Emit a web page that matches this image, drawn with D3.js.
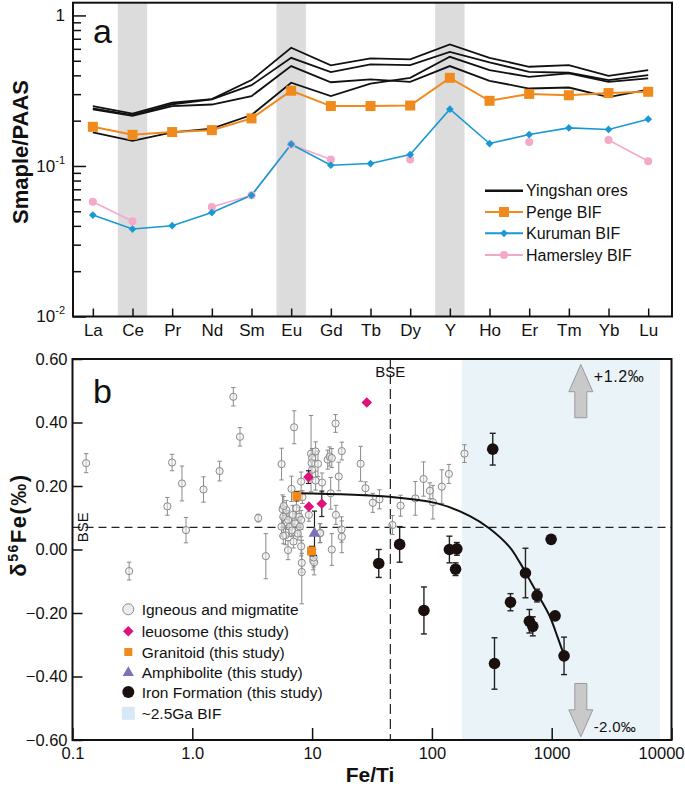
<!DOCTYPE html>
<html><head><meta charset="utf-8">
<script src="https://cdn.jsdelivr.net/npm/d3@7"></script>
<style>body{margin:0;background:#fff;} svg{display:block;font-family:"Liberation Sans",Arial,sans-serif;}</style>
</head><body>
<svg id="c" width="685" height="789"></svg>
<script>
// ---------- Panel a data ----------
const ree = ["La","Ce","Pr","Nd","Sm","Eu","Gd","Tb","Dy","Y","Ho","Er","Tm","Yb","Lu"];
const shadedREE = ["Ce","Eu","Y"];
const yingshan1 = [0.250,0.223,0.263,0.278,0.372,0.610,0.466,0.518,0.510,0.642,0.523,0.456,0.468,0.397,0.433];
const yingshan2 = [0.241,0.218,0.257,0.277,0.344,0.523,0.420,0.473,0.468,0.573,0.488,0.422,0.416,0.372,0.401];
const yingshan3 = [0.238,0.215,0.250,0.256,0.291,0.461,0.360,0.376,0.362,0.461,0.368,0.327,0.332,0.287,0.322];
const yingshan4 = [0.167,0.147,0.167,0.177,0.218,0.357,0.291,0.352,0.385,0.531,0.433,0.391,0.412,0.362,0.382];
const penge     = [0.182,0.161,0.168,0.173,0.207,0.316,0.250,0.250,0.252,0.385,0.271,0.301,0.295,0.305,0.311];
const kuruman   = [0.0472,0.0381,0.0401,0.0490,0.0638,0.1395,0.1011,0.1038,0.1191,0.2384,0.1410,0.1618,0.1790,0.1747,0.2045];
const hamersley = [0.0579,0.0429,null,0.0534,0.0640,0.139,0.1103,null,0.1105,null,null,0.1444,null,0.1489,0.1075];
const legendA = ["Yingshan ores","Penge BIF","Kuruman BIF","Hamersley BIF"];

// ---------- Panel b data ----------  [Fe/Ti, d56Fe, error]
const igneous = [
 [0.13,0.272,0.03],[0.297,-0.068,0.028],[0.619,0.136,0.028],[0.678,0.274,0.026],[0.82,0.208,0.055],
 [0.886,0.061,0.04],[1.24,0.189,0.04],[1.69,0.247,0.031],[2.2,0.481,0.029],[2.5,0.355,0.029],
 [3.55,0.099,0.012],[4.11,-0.021,0.071],[5.56,0.269,0.05],[7.08,0.385,0.052],
 [6.73,0.191,0.04],[5.67,0.127,0.045],[5.75,0.103,0.03],[5.56,0.072,0.03],[6.0,0.045,0.03],
 [6.1,0.124,0.03],[6.3,0.093,0.03],[6.5,0.072,0.03],[6.9,0.109,0.03],[7.2,0.082,0.03],
 [7.4,0.13,0.03],[7.8,0.103,0.03],[8.1,0.093,0.03],[7.9,0.072,0.03],[6.3,-0.002,0.03],
 [5.75,0.043,0.025],[8.1,0.01,0.03],[8.2,-0.042,0.03],[8.2,-0.071,0.1],[8.1,0.214,0.03],
 [8.3,0.165,0.02],[5.8,0.137,0.03],[6.8,0.06,0.02],[7.6,0.05,0.02],[7.0,0.025,0.02],
 [9.8,0.302,0.12],[10.0,0.288,0.03],[10.7,0.309,0.03],[9.9,0.272,0.03],[11.2,0.27,0.04],
 [10.0,0.251,0.03],[12.1,0.211,0.03],[10.7,0.217,0.03],[9.4,0.109,0.02],[11.6,0.051,0.03],
 [10.2,-0.034,0.03],[10.4,-0.04,0.04],[10.3,-0.025,0.03],[11.7,0.052,0.03],
 [13.5,0.283,0.03],[14.0,0.293,0.03],[14.6,0.288,0.03],[15.7,0.397,0.028],[17.7,0.31,0.028],
 [16.7,0.23,0.045],[14.3,0.177,0.05],[15.8,0.109,0.03],[17.6,0.063,0.04],[17.7,0.04,0.05],
 [14.6,0.0,0.05],[25.4,0.27,0.055],[27.9,0.193,0.02],[32.1,0.147,0.03],[36.5,0.158,0.03],
 [46.8,0.077,0.03],[54.8,0.138,0.033],[72.7,0.161,0.053],[85.2,0.222,0.054],[96.2,0.185,0.025],
 [101.9,0.149,0.053],[121,0.198,0.053],[138.6,0.238,0.03],[187,0.302,0.028]
];
const leuosome = [[28.6,0.463,0],[9.33,0.228,0.02],[9.4,0.135,0],[12.05,0.144,0.04]];
const granitoid = [[7.46,0.168,0.015],[9.89,-0.005,0.015]];
const amphibolite = [[10.47,0.051,0.07]];
const ironFormation = [
 [322,0.316,0.05],[989,0.032,0.012],[53.8,0.016,0.056],[36,-0.044,0.044],[140,0.0,0.042],
 [161.5,0.002,0.02],[157.6,-0.062,0.02],[85.8,-0.192,0.074],[604,-0.074,0.078],[755,-0.145,0.02],
 [453,-0.166,0.027],[651,-0.226,0.037],[695,-0.242,0.03],[1067,-0.209,0.01],[333,-0.359,0.081],
 [1268,-0.335,0.059]
];
const mixingCurve = [[7.41,0.177],[44.4,0.166],[108.8,0.146],[206,0.106],[302.6,0.066],[444,0.008],
 [538,-0.039],[612,-0.076],[764,-0.141],[957,-0.208],[1122,-0.277],[1268,-0.334]];
const bseFeTi = 45, bseD = 0.07;
const bifRange = [178, 8000];
const xTickValsB = [0.1,1,10,100,1000,10000];
const xTickLabelsB = ["0.1","1.0","10","100","1000","10000"];
const yTickValsB = [-0.6,-0.4,-0.2,0,0.2,0.4,0.6];
const legendB = ["Igneous and migmatite","leuosome (this study)","Granitoid (this study)","Amphibolite (this study)","Iron Formation (this study)","~2.5Ga BIF"];
const arrowFeTi = 1750;

const FONT = "Liberation Sans, Arial, sans-serif";
const svg = d3.select("#c");
const diamondA = d3.symbol(d3.symbolSquare, 30);
const diamondB = d3.symbol(d3.symbolSquare, 56);

// ================= PANEL A =================
const ax = d3.scaleLinear().domain([-0.5, 14.6]).range([73, 672]);
const ay = d3.scaleLog().domain([0.01, 1.215]).range([316.5, 2.7]);
const step = ax(1) - ax(0);
const gA = svg.append("g");

gA.selectAll("rect.band").data(shadedREE).join("rect")
  .attr("x", d => ax(ree.indexOf(d)) - 0.37*step).attr("width", 0.74*step)
  .attr("y", ay(1.215)).attr("height", ay(0.01) - ay(1.215)).attr("fill", "#dcdcdc");

const lineA = d3.line().defined(d => d != null).x((d,i) => ax(i)).y(d => ay(d));
[yingshan1, yingshan2, yingshan3, yingshan4].forEach(s => {
  gA.append("path").attr("d", lineA(s)).attr("fill","none").attr("stroke","#111").attr("stroke-width",1.8);
});
gA.append("path").attr("d", lineA(hamersley)).attr("fill","none").attr("stroke","#f4a9c9").attr("stroke-width",1.6);
gA.append("path").attr("d", lineA(kuruman)).attr("fill","none").attr("stroke","#1899d4").attr("stroke-width",1.6);
gA.append("path").attr("d", lineA(penge)).attr("fill","none").attr("stroke","#f08a1c").attr("stroke-width",2);

gA.selectAll("circle.ham").data(hamersley.map((v,i)=>[i,v]).filter(d=>d[1]!=null)).join("circle")
  .attr("cx", d => ax(d[0])).attr("cy", d => ay(d[1])).attr("r", 4).attr("fill","#f4a9c9");
gA.selectAll("path.kur").data(kuruman.map((v,i)=>[i,v])).join("path")
  .attr("d", diamondA).attr("transform", d => `translate(${ax(d[0])},${ay(d[1])}) rotate(45)`).attr("fill","#1899d4");
gA.selectAll("rect.pen").data(penge.map((v,i)=>[i,v])).join("rect")
  .attr("x", d => ax(d[0]) - 5).attr("y", d => ay(d[1]) - 5).attr("width",10).attr("height",10).attr("fill","#f08a1c");

// axes
const gAy = gA.append("g").attr("transform","translate(73,0)");
const minorVals = [];
[0.01,0.1].forEach(b => { for (let k=2;k<=9;k++) minorVals.push(b*k); });
gAy.append("g").call(d3.axisLeft(ay).tickValues(minorVals).tickSize(-8).tickSizeOuter(0).tickFormat(""));
const gMaj = gAy.append("g").call(d3.axisLeft(ay).tickValues([0.01,0.1,1]).tickSize(-13).tickSizeOuter(0).tickPadding(8).tickFormat(""));
gMaj.selectAll(".tick text").each(function(d){
  const t = d3.select(this).attr("font-size",17).attr("font-family",FONT).attr("fill","#111");
  if (d === 1) t.text("1");
  else { t.text("10"); t.append("tspan").attr("dy",-8).attr("font-size",11).text(d < 0.05 ? "-2" : "-1"); }
});
gAy.selectAll("line").attr("stroke","#111").attr("stroke-width",1.5);
gAy.selectAll(".domain").remove();

const gAx = gA.append("g").attr("transform","translate(0,316.5)")
  .call(d3.axisBottom(ax).tickValues(d3.range(ree.length)).tickFormat(i => ree[i]).tickSize(-8).tickSizeOuter(0).tickPadding(7));
gAx.selectAll(".domain").remove();
gAx.selectAll("line").attr("stroke","#111").attr("stroke-width",1.5);
gAx.selectAll("text").attr("font-size",17).attr("font-family",FONT).attr("fill","#111");

gA.append("rect").attr("x",73).attr("y",2.7).attr("width",599).attr("height",313.8)
  .attr("fill","none").attr("stroke","#111").attr("stroke-width",2);

gA.append("text").attr("x",93).attr("y",43).attr("font-size",34).attr("font-family",FONT).attr("fill","#111").text("a");
gA.append("text").attr("transform","translate(28,152) rotate(-90)").attr("text-anchor","middle")
  .attr("font-size",22).attr("font-weight","bold").attr("font-family",FONT).attr("fill","#111").text("Smaple/PAAS");

// legend a
const legAy = [190.7, 212, 233.3, 255];
const legAcol = ["#111","#f08a1c","#1899d4","#f4a9c9"];
legendA.forEach((name,i) => {
  const y = legAy[i];
  gA.append("line").attr("x1",485).attr("x2",523).attr("y1",y).attr("y2",y).attr("stroke",legAcol[i]).attr("stroke-width", i===0?2.6:2);
  if (i===1) gA.append("rect").attr("x",499).attr("y",y-5).attr("width",10).attr("height",10).attr("fill",legAcol[i]);
  if (i===2) gA.append("path").attr("d", diamondA).attr("transform",`translate(504,${y}) rotate(45)`).attr("fill",legAcol[i]);
  if (i===3) gA.append("circle").attr("cx",504).attr("cy",y).attr("r",4).attr("fill",legAcol[i]);
  gA.append("text").attr("x",526).attr("y",y).attr("dy","0.36em").attr("font-size",16).attr("font-family",FONT).attr("fill","#111").text(name);
});

// ================= PANEL B =================
const bx = d3.scaleLog().domain([0.1, 10000]).range([72.5, 671.5]);
const by = d3.scaleLinear().domain([-0.6, 0.6]).range([740, 359]);
const gB = svg.append("g");

gB.append("rect").attr("x", bx(bifRange[0])).attr("width", bx(bifRange[1]) - bx(bifRange[0]))
  .attr("y", by(0.6)).attr("height", by(-0.6) - by(0.6)).attr("fill", "#eaf3f8");

gB.append("line").attr("x1", bx(0.1)).attr("x2", bx(10000)).attr("y1", by(bseD)).attr("y2", by(bseD))
  .attr("stroke","#222").attr("stroke-width",1.2).attr("stroke-dasharray","8,5");
gB.append("line").attr("x1", bx(bseFeTi)).attr("x2", bx(bseFeTi)).attr("y1", by(0.6)).attr("y2", by(-0.6))
  .attr("stroke","#222").attr("stroke-width",1.2).attr("stroke-dasharray","10,5");

function errBars(g, data, color, w, cap) {
  const sel = g.append("g").attr("stroke", color).attr("stroke-width", w);
  data.filter(d => d[2] > 0).forEach(d => {
    const x = bx(d[0]), y1 = by(d[1]-d[2]), y2 = by(d[1]+d[2]);
    sel.append("line").attr("x1",x).attr("x2",x).attr("y1",y1).attr("y2",y2);
    sel.append("line").attr("x1",x-cap).attr("x2",x+cap).attr("y1",y1).attr("y2",y1);
    sel.append("line").attr("x1",x-cap).attr("x2",x+cap).attr("y1",y2).attr("y2",y2);
  });
}

errBars(gB, igneous, "#8a8a8a", 1, 2.2);
gB.selectAll("circle.ign").data(igneous).join("circle")
  .attr("cx", d => bx(d[0])).attr("cy", d => by(d[1])).attr("r", 3.6)
  .attr("fill","rgba(238,238,238,0.55)").attr("stroke","#8a8a8a").attr("stroke-width",1);

gB.append("path").attr("d", d3.line().curve(d3.curveCatmullRom.alpha(0.5)).x(d => bx(d[0])).y(d => by(d[1]))(mixingCurve))
  .attr("fill","none").attr("stroke","#111").attr("stroke-width",2);

errBars(gB, leuosome, "#222", 1.2, 2.5);
errBars(gB, granitoid, "#222", 1.2, 2.5);
errBars(gB, amphibolite, "#222", 1.2, 2.5);
gB.selectAll("path.leu").data(leuosome).join("path")
  .attr("d", diamondB).attr("transform", d => `translate(${bx(d[0])},${by(d[1])}) rotate(45)`).attr("fill","#e0117d");
gB.selectAll("rect.gra").data(granitoid).join("rect")
  .attr("x", d => bx(d[0]) - 4.5).attr("y", d => by(d[1]) - 4.5).attr("width",9).attr("height",9).attr("fill","#f08a1c");
gB.selectAll("path.amp").data(amphibolite).join("path")
  .attr("d", d3.symbol(d3.symbolTriangle, 60)).attr("transform", d => `translate(${bx(d[0])},${by(d[1])})`).attr("fill","#7d70b8");

errBars(gB, ironFormation, "#222", 1.4, 3);
gB.selectAll("circle.ifm").data(ironFormation).join("circle")
  .attr("cx", d => bx(d[0])).attr("cy", d => by(d[1])).attr("r", 5.8).attr("fill","#1a1010");

// arrows
function arrow(yBase, yHead, yTip) {
  const x = bx(arrowFeTi);
  const pts = [[x-6,yBase],[x+6,yBase],[x+6,yHead],[x+12,yHead],[x,yTip],[x-12,yHead],[x-6,yHead]];
  gB.append("polygon").attr("points", pts.map(p => p.join(",")).join(" "))
    .attr("fill","#c9c9c9").attr("stroke","#9a9a9a").attr("stroke-width",1);
}
arrow(by(0.415), by(0.497), by(0.583));
arrow(by(-0.422), by(-0.505), by(-0.59));
gB.append("text").attr("x", bx(arrowFeTi)+13).attr("y", by(0.528)).attr("font-size",16).attr("letter-spacing",0.6)
  .attr("font-family",FONT).attr("fill","#111").text("+1.2‰");
gB.append("text").attr("x", bx(arrowFeTi)+13).attr("y", by(-0.575)).attr("font-size",15).attr("letter-spacing",0.3)
  .attr("font-family",FONT).attr("fill","#111").text("-2.0‰");

// BSE labels
gB.append("text").attr("x", bx(bseFeTi)).attr("y", 376.5).attr("text-anchor","middle").attr("font-size",15)
  .attr("font-family",FONT).attr("fill","#111").text("BSE");
gB.append("text").attr("transform", `translate(88,${by(bseD)}) rotate(-90)`).attr("text-anchor","middle").attr("font-size",15)
  .attr("font-family",FONT).attr("fill","#111").text("BSE");

// axes b
const gBy = gB.append("g").attr("transform","translate(72.5,0)")
  .call(d3.axisLeft(by).tickValues(yTickValsB).tickFormat(d3.format(".2f")).tickSize(-10).tickSizeOuter(0).tickPadding(5));
gBy.selectAll(".domain").remove();
gBy.selectAll("line").attr("stroke","#111").attr("stroke-width",1.5);
gBy.selectAll("text").attr("font-size",16.5).attr("font-family",FONT).attr("fill","#111");

const gBx = gB.append("g").attr("transform","translate(0,740)")
  .call(d3.axisBottom(bx).tickValues(xTickValsB).tickFormat((d,i) => xTickLabelsB[i]).tickSize(-12).tickSizeOuter(0).tickPadding(7));
gBx.selectAll(".domain").remove();
gBx.selectAll("line").attr("stroke","#111").attr("stroke-width",1.5);
gBx.selectAll("text").attr("font-size",16.5).attr("font-family",FONT).attr("fill","#111");
gBx.selectAll(".tick").filter(d => d === 10000).select("text").attr("text-anchor","end").attr("x", 684 - bx(10000));

gB.append("rect").attr("x",72.5).attr("y",359).attr("width",599).attr("height",381)
  .attr("fill","none").attr("stroke","#111").attr("stroke-width",2);

gB.append("text").attr("x",93).attr("y",403).attr("font-size",34).attr("font-family",FONT).attr("fill","#111").text("b");

const yl = gB.append("text").attr("transform","translate(26,525) rotate(-90)").attr("text-anchor","middle")
  .attr("font-size",22).attr("letter-spacing",1.5).attr("font-weight","bold").attr("font-family",FONT).attr("fill","#111");
yl.append("tspan").text("δ");
yl.append("tspan").attr("dy",-8).attr("font-size",14).text("56");
yl.append("tspan").attr("dy",8).text("Fe(‰)");

gB.append("text").attr("x",370).attr("y",782).attr("text-anchor","middle").attr("font-size",21).attr("font-weight","bold")
  .attr("font-family",FONT).attr("fill","#111").text("Fe/Ti");

// legend b
const legBy = [609.3, 631.3, 652, 672.7, 692, 713.3];
const lx = 128.3;
const lg = gB.append("g");
lg.append("circle").attr("cx",lx).attr("cy",legBy[0]).attr("r",5.5).attr("fill","#ececec").attr("stroke","#8a8a8a").attr("stroke-width",1);
lg.append("path").attr("d", diamondB).attr("transform",`translate(${lx},${legBy[1]}) rotate(45)`).attr("fill","#e0117d");
lg.append("rect").attr("x",lx-4).attr("y",legBy[2]-4).attr("width",8).attr("height",8).attr("fill","#f08a1c");
lg.append("path").attr("d", d3.symbol(d3.symbolTriangle,55)).attr("transform",`translate(${lx},${legBy[3]})`).attr("fill","#7d70b8");
lg.append("circle").attr("cx",lx).attr("cy",legBy[4]).attr("r",6).attr("fill","#1a1010");
lg.append("rect").attr("x",lx-6.5).attr("y",legBy[5]-6.5).attr("width",13).attr("height",13).attr("fill","#d5e8f3");
legendB.forEach((name,i) => {
  lg.append("text").attr("x",141.7).attr("y",legBy[i]).attr("dy","0.36em").attr("font-size",15.5)
    .attr("font-family",FONT).attr("fill","#111").text(name);
});
</script>
</body></html>
